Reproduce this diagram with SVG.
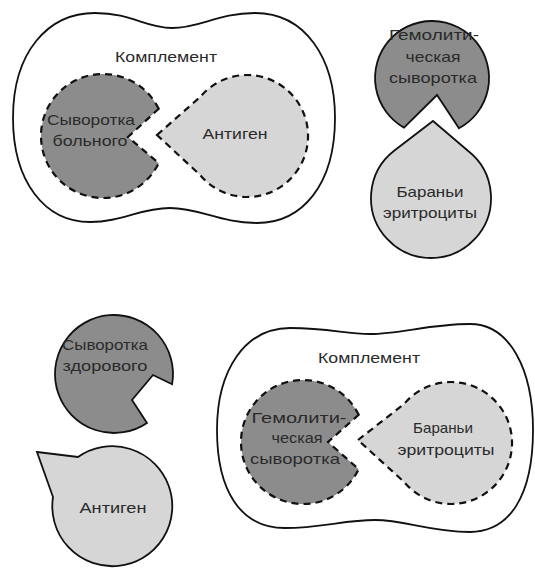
<svg xmlns="http://www.w3.org/2000/svg" width="535" height="574" viewBox="0 0 535 574">
<style>
.blob{fill:#fff;stroke:#111;stroke-width:1.8}
.dark{fill:#8c8c8c;stroke:#111;stroke-width:1.8}
.light{fill:#d6d6d6;stroke:#111;stroke-width:1.8}
.dash{stroke-dasharray:7 5;stroke-width:2.2}
text{font-family:"Liberation Sans",Arial,sans-serif;font-size:15px;fill:#2a2a2a;text-anchor:middle}
</style>
<rect width="535" height="574" fill="#fff"/>
<g id="complement-top">
<path class="blob" d="M 13,118 C 13,52 48,13 95,13 C 132,13 145,28 172,28 C 200,28 218,13 255,13 C 305,13 335,58 335,118 C 335,185 302,223 257,223 C 220,223 200,208 170,208 C 140,208 122,222 90,222 C 45,222 13,182 13,118 Z"/>
<text x="166" y="62" textLength="102" lengthAdjust="spacingAndGlyphs">Комплемент</text>
</g>
<g id="serum-patient">
<path class="dark dash" d="M 158.7,108.8 A 62 62 0 1 0 158.7,163.2 L 128,137 Z"/>
<text x="91" y="125" textLength="88" lengthAdjust="spacingAndGlyphs">Сыворотка</text>
<text x="90" y="146" textLength="75" lengthAdjust="spacingAndGlyphs">больного</text>
</g>
<g id="antigen-top">
<path class="light dash" d="M 157,135 L 200.3,96.8 A 61 61 0 1 1 200.3,175.2 Z"/>
<text x="235" y="139" textLength="65" lengthAdjust="spacingAndGlyphs">Антиген</text>
</g>
<g id="hemolytic-serum-top">
<path class="dark" d="M 404,127.6 A 57 57 0 1 1 459,128.2 L 437,95 Z"/>
<text x="434" y="40" textLength="90" lengthAdjust="spacingAndGlyphs">Гемолити-</text>
<text x="433" y="62" textLength="55" lengthAdjust="spacingAndGlyphs">ческая</text>
<text x="433" y="83" textLength="88" lengthAdjust="spacingAndGlyphs">сыворотка</text>
</g>
<g id="sheep-rbc-top">
<path class="light" d="M 433,121 L 467.9,150.7 A 60 60 0 1 1 394.1,150.7 Z"/>
<text x="430" y="197" textLength="67" lengthAdjust="spacingAndGlyphs">Бараньи</text>
<text x="430" y="218" textLength="94" lengthAdjust="spacingAndGlyphs">эритроциты</text>
</g>
<g id="serum-healthy">
<path class="dark" d="M 172.1,384.2 A 59 59 0 1 0 147,422.9 L 132,400 L 153,375 Z"/>
<text x="105" y="350" textLength="86" lengthAdjust="spacingAndGlyphs">Сыворотка</text>
<text x="105" y="371" textLength="85" lengthAdjust="spacingAndGlyphs">здорового</text>
</g>
<g id="antigen-bottom">
<path class="light" d="M 37,452 L 78,457 A 60 60 0 1 1 53,497 Z"/>
<text x="113" y="513" textLength="67" lengthAdjust="spacingAndGlyphs">Антиген</text>
</g>
<g id="complement-bottom">
<path class="blob" d="M 217,430 C 217,370 245,328 290,328 C 330,328 345,334 370,334 C 400,334 430,324 470,324 C 510,324 533,370 533,430 C 533,495 510,532 470,532 C 430,532 405,520 375,520 C 345,520 320,528 285,528 C 240,528 217,490 217,430 Z"/>
<text x="369" y="363" textLength="102" lengthAdjust="spacingAndGlyphs">Комплемент</text>
</g>
<g id="hemolytic-serum-bottom">
<path class="dark dash" d="M 358.7,414.8 A 62 62 0 1 0 358.7,469.2 L 328,442 Z"/>
<text x="299" y="423" textLength="95" lengthAdjust="spacingAndGlyphs">Гемолити-</text>
<text x="297" y="443" textLength="51" lengthAdjust="spacingAndGlyphs">ческая</text>
<text x="295" y="464" textLength="90" lengthAdjust="spacingAndGlyphs">сыворотка</text>
</g>
<g id="sheep-rbc-bottom">
<path class="light dash" d="M 358,440 L 404.3,403.8 A 61 61 0 1 1 404.3,482.2 Z"/>
<text x="443" y="433" textLength="60" lengthAdjust="spacingAndGlyphs">Бараньи</text>
<text x="446" y="455" textLength="97" lengthAdjust="spacingAndGlyphs">эритроциты</text>
</g>
<g id="connectors"/>
</svg>
